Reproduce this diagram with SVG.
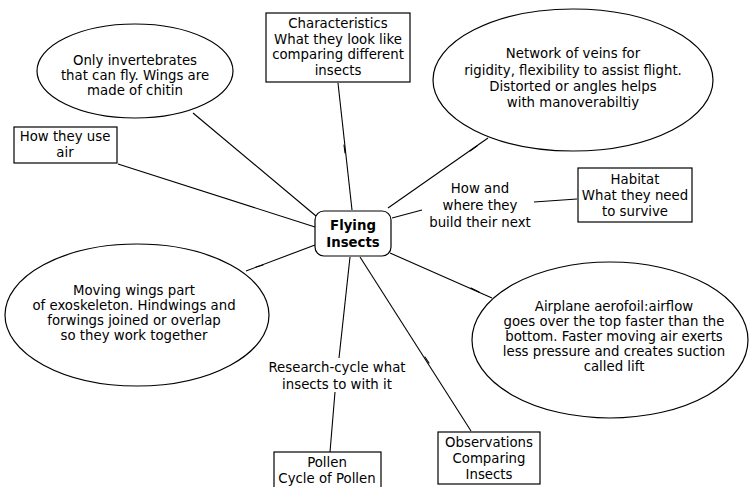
<svg xmlns="http://www.w3.org/2000/svg" width="752" height="487" viewBox="0 0 752 487">
<style>
text{font-family:"DejaVu Sans",Verdana,sans-serif;font-size:13.3px;fill:#000;text-anchor:middle}
.b{font-weight:bold}
.shape{fill:#fff;stroke:#000;stroke-width:1.2}
.conn line{stroke:#000;stroke-width:1.1}
.mark{stroke:#000;stroke-width:2.6;stroke-linecap:round}
</style>
<rect width="752" height="487" fill="#fff"/>
<g class="conn" id="connectors">
<line x1="316" y1="216" x2="193" y2="113"/>
<line x1="315" y1="227" x2="118" y2="164"/>
<line x1="352" y1="210" x2="338" y2="83"/>
<line x1="388" y1="208" x2="488" y2="138"/>
<line x1="392" y1="218" x2="422" y2="210"/>
<line x1="534" y1="202" x2="577" y2="199"/>
<line x1="390" y1="253" x2="492" y2="298"/>
<line x1="315" y1="245" x2="246" y2="271"/>
<line x1="350" y1="257" x2="339" y2="358"/>
<line x1="335" y1="392" x2="330" y2="452"/>
<line x1="360" y1="257" x2="471" y2="431"/>
<line class="mark" x1="344" y1="145" x2="345" y2="153"/>
<line class="mark" x1="470" y1="151" x2="477" y2="146"/>
<line class="mark" x1="471" y1="288" x2="479" y2="292"/>
<line class="mark" x1="256" y1="267" x2="263" y2="265"/>
<line class="mark" x1="425" y1="357" x2="429" y2="363"/>
</g>
<g id="center">
<rect class="shape" x="315" y="211" width="76" height="45" rx="9"/>
<text class="b" x="353" y="230">Flying</text>
<text class="b" x="353" y="247">Insects</text>
</g>
<g id="chitin">
<ellipse class="shape" cx="135" cy="71" rx="98" ry="47"/>
<text x="135" y="65">Only invertebrates</text>
<text x="135" y="80">that can fly. Wings are</text>
<text x="135" y="95">made of chitin</text>
</g>
<g id="air">
<rect class="shape" x="14" y="127" width="103" height="36"/>
<text x="65" y="141">How they use</text>
<text x="65" y="157">air</text>
</g>
<g id="characteristics">
<rect class="shape" x="266" y="13" width="144" height="69"/>
<text x="338" y="28">Characteristics</text>
<text x="338" y="44">What they look like</text>
<text x="338" y="59">comparing different</text>
<text x="338" y="75">insects</text>
</g>
<g id="veins">
<ellipse class="shape" cx="573" cy="80" rx="140" ry="71"/>
<text x="573" y="58">Network of veins for</text>
<text x="573" y="75">rigidity, flexibility to assist flight.</text>
<text x="573" y="91">Distorted or angles helps</text>
<text x="573" y="107">with manoverabiltiy</text>
</g>
<g id="nest">
<text x="480" y="193">How and</text>
<text x="480" y="210">where they</text>
<text x="480" y="227">build their next</text>
</g>
<g id="habitat">
<rect class="shape" x="578" y="168" width="114" height="54"/>
<text x="635" y="184">Habitat</text>
<text x="635" y="200">What they need</text>
<text x="635" y="216">to survive</text>
</g>
<g id="exoskeleton">
<ellipse class="shape" cx="137" cy="315" rx="132" ry="71"/>
<text x="134" y="295">Moving wings part</text>
<text x="134" y="310">of exoskeleton. Hindwings and</text>
<text x="134" y="325">forwings joined or overlap</text>
<text x="134" y="340">so they work together</text>
</g>
<g id="aerofoil">
<ellipse class="shape" cx="610" cy="340" rx="138" ry="78"/>
<text x="614" y="311">Airplane aerofoil:airflow</text>
<text x="614" y="326">goes over the top faster than the</text>
<text x="614" y="341">bottom. Faster moving air exerts</text>
<text x="614" y="356">less pressure and creates suction</text>
<text x="614" y="371">called lift</text>
</g>
<g id="research">
<text x="337" y="372">Research-cycle what</text>
<text x="337" y="389">insects to with it</text>
</g>
<g id="pollen">
<rect class="shape" x="274" y="452" width="107" height="40"/>
<text x="327" y="467">Pollen</text>
<text x="327" y="483">Cycle of Pollen</text>
</g>
<g id="observations">
<rect class="shape" x="438" y="432" width="102" height="52"/>
<text x="489" y="447">Observations</text>
<text x="489" y="463">Comparing</text>
<text x="489" y="479">Insects</text>
</g>
</svg>
